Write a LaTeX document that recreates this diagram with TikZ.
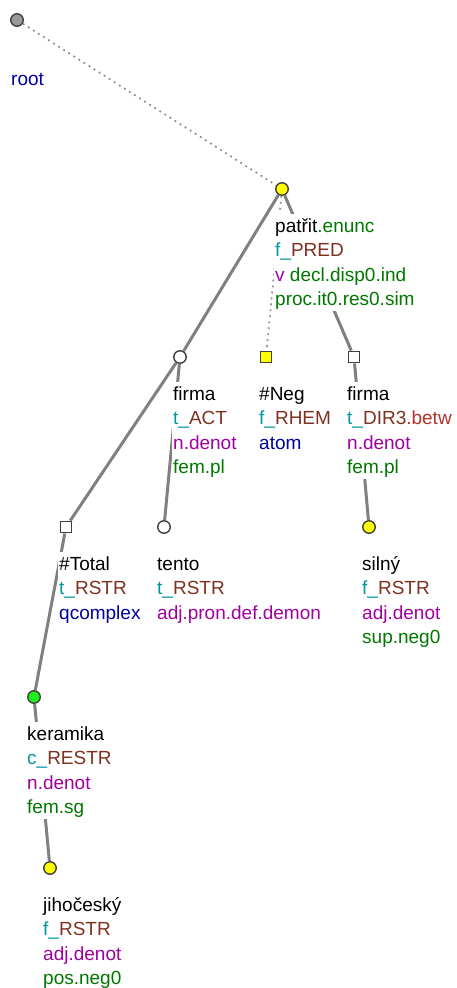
\documentclass[tikz,border=0pt]{standalone}
\usepackage{fontspec}
\setmainfont{Liberation Sans}
\usetikzlibrary{positioning}
\definecolor{lemc}{RGB}{0,0,0}
\definecolor{tfac}{RGB}{0,150,160}
\definecolor{func}{RGB}{128,48,32}
\definecolor{subf}{RGB}{180,50,40}
\definecolor{semc}{RGB}{160,0,160}
\definecolor{gram}{RGB}{0,120,0}
\definecolor{nodc}{RGB}{0,0,160}
\definecolor{vyel}{RGB}{255,255,0}
\definecolor{vgrn}{RGB}{30,240,30}

\begin{document}
\begin{tikzpicture}[x=1pt, y=-1pt,
    vcirc/.style={circle, draw=black!75, line width=1.4pt, minimum size=12.5pt, inner sep=0pt},
    vsq/.style={rectangle, draw=black!75, line width=1.4pt, minimum size=11.5pt, inner sep=0pt},
    tedge/.style={draw=black!50, line width=3pt},
    hedge/.style={draw=black!45, line width=1.7pt, dash pattern=on 1.8pt off 4.2pt},
    lbl/.style={anchor=north west, align=left, fill=white, inner sep=1pt, font=\fontsize{19}{24.5}\selectfont}]
        \useasboundingbox (0,0) rectangle (456,988);
        % Tree vertices
        \node[vcirc, fill=black!40] (root) at (17,20) {};
        \node[vcirc, fill=vyel] (patrit) at (282,189) {};
        \node[vcirc, fill=white] (firmaA) at (180,357) {};
        \node[vsq, fill=vyel] (neg) at (266,357) {};
        \node[vsq, fill=white] (firmaD) at (354,357) {};
        \node[vsq, fill=white] (total) at (66,527) {};
        \node[vcirc, fill=white] (tento) at (164,527) {};
        \node[vcirc, fill=vyel] (silny) at (369,527) {};
        \node[vcirc, fill=vgrn] (keramika) at (34,697) {};
        \node[vcirc, fill=vyel] (jiho) at (50,868) {};

        % Edges
        \draw[hedge] (root) -- (patrit);
        \draw[hedge] (patrit) -- (neg);
        \draw[tedge] (patrit) -- (firmaA);
        \draw[tedge] (patrit) -- (firmaD);
        \draw[tedge] (firmaA) -- (total);
        \draw[tedge] (firmaA) -- (tento);
        \draw[tedge] (firmaD) -- (silny);
        \draw[tedge] (total) -- (keramika);
        \draw[tedge] (keramika) -- (jiho);

        % Labels
        \node[lbl] (root-l) at (10,67) {\strut\textcolor{nodc}{root}};
        \node[lbl] (patrit-l) at (274,214) {\strut patřit\textcolor{gram}{.enunc}\\\textcolor{tfac}{f\_}\textcolor{func}{PRED}\\\textcolor{semc}{v}~\textcolor{gram}{decl.disp0.ind}\\\textcolor{gram}{proc.it0.res0.sim}};
        \node[lbl] (firmaA-l) at (172,382) {\strut firma\\\textcolor{tfac}{t\_}\textcolor{func}{ACT}\\\textcolor{semc}{n.denot}\\\textcolor{gram}{fem.pl}};
        \node[lbl] (neg-l) at (258,382) {\strut\#Neg\\\textcolor{tfac}{f\_}\textcolor{func}{RHEM}\\\textcolor{nodc}{atom}};
        \node[lbl] (firmaD-l) at (346,382) {\strut firma\\\textcolor{tfac}{t\_}\textcolor{func}{DIR3}\textcolor{subf}{.betw}\\\textcolor{semc}{n.denot}\\\textcolor{gram}{fem.pl}};
        \node[lbl] (total-l) at (58,552) {\strut\#Total\\\textcolor{tfac}{t\_}\textcolor{func}{RSTR}\\\textcolor{nodc}{qcomplex}};
        \node[lbl] (tento-l) at (156,552) {\strut tento\\\textcolor{tfac}{t\_}\textcolor{func}{RSTR}\\\textcolor{semc}{adj.pron.def.demon}};
        \node[lbl] (silny-l) at (361,552) {\strut silný\\\textcolor{tfac}{f\_}\textcolor{func}{RSTR}\\\textcolor{semc}{adj.denot}\\\textcolor{gram}{sup.neg0}};
        \node[lbl] (keramika-l) at (26,722) {\strut keramika\\\textcolor{tfac}{c\_}\textcolor{func}{RESTR}\\\textcolor{semc}{n.denot}\\\textcolor{gram}{fem.sg}};
        \node[lbl] (jiho-l) at (42,893) {\strut jihočeský\\\textcolor{tfac}{f\_}\textcolor{func}{RSTR}\\\textcolor{semc}{adj.denot}\\\textcolor{gram}{pos.neg0}};
    \end{tikzpicture}
\end{document}
